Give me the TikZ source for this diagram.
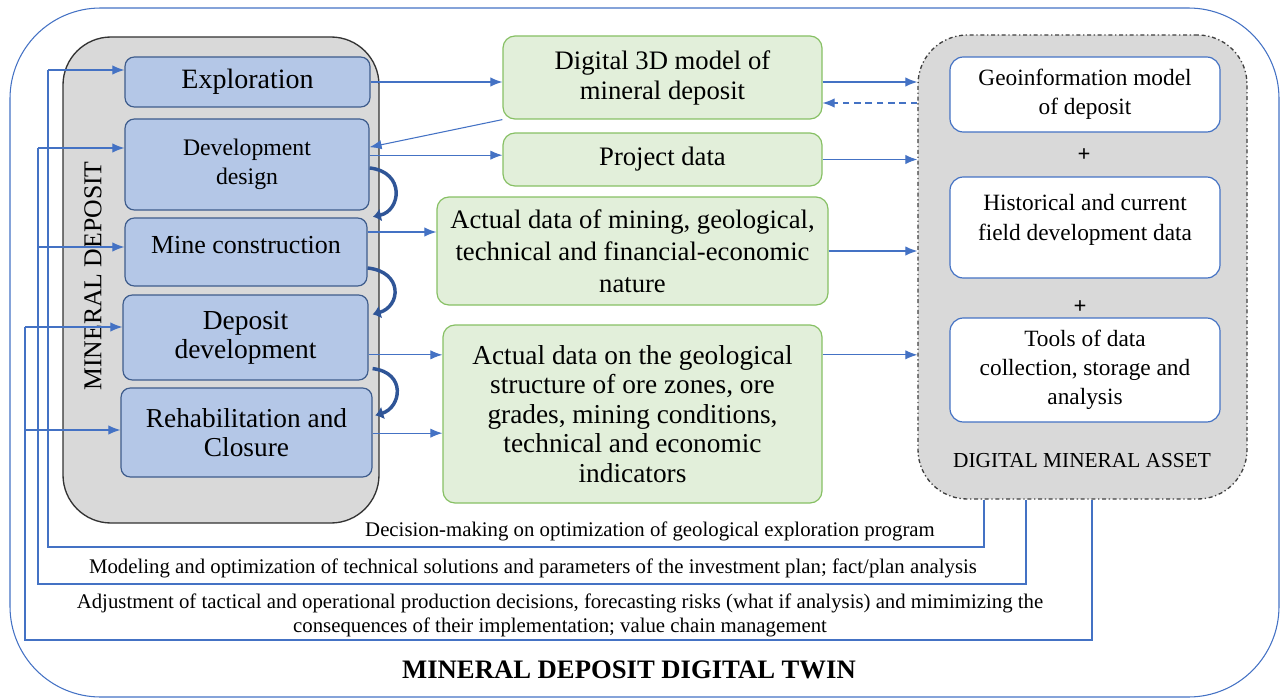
\documentclass[tikz,border=0pt]{standalone}
\usepackage{fontspec}
\setmainfont{Liberation Serif}
\newfontfamily\tnr{Liberation Serif}
\usetikzlibrary{arrows.meta,calc}
\definecolor{arrblue}{RGB}{68,114,196}
\definecolor{bluefill}{RGB}{180,199,231}
\definecolor{blueborder}{RGB}{62,92,140}
\definecolor{greenfill}{RGB}{226,239,218}
\definecolor{greenborder}{RGB}{135,192,100}
\definecolor{grayfill}{RGB}{217,217,217}
\definecolor{curvblue}{RGB}{47,85,151}
\tikzset{
  bbox/.style={draw=blueborder, fill=bluefill, rounded corners=7pt, line width=0.9pt, inner sep=0pt, align=center},
  gbox/.style={draw=greenborder, fill=greenfill, rounded corners=9pt, line width=0.9pt, inner sep=0pt, align=center},
  wbox/.style={draw=arrblue, fill=white, rounded corners=10pt, line width=0.9pt, inner sep=0pt, align=center},
  arr/.style={draw=arrblue, line width=0.8pt, -{Latex[length=9pt,width=7pt]}},
  darr/.style={arr, dash pattern=on 5pt off 3.5pt},
  fb/.style={draw=arrblue, line width=0.8pt},
  curv/.style={draw=curvblue, line width=2.6pt, -{Latex[length=6pt,width=10pt]}},
  ftG/.style={font=\tnr\fontsize{20}{22.5}\selectfont},
  ftW/.style={font=\tnr\fontsize{17.5}{22}\selectfont},
  ftB/.style={font=\tnr\fontsize{15.6}{18}\selectfont},
  txt/.style={inner sep=0pt, align=center},
}
\begin{document}
\begin{tikzpicture}[x=0.75pt,y=-0.75pt]
\useasboundingbox (0,0) rectangle (1282,699);
% outer frame
\node[draw=arrblue, line width=0.8pt, rounded corners=68pt, inner sep=0pt, minimum width=951.75pt, minimum height=516.75pt] (twin) at (644.5,352.5) {};
% left container
\node[draw=black!80, fill=grayfill, line width=1pt, rounded corners=36pt, inner sep=0pt, minimum width=237pt, minimum height=364.5pt] (mdep) at (221,280) {};
\node[rotate=90, font=\tnr\fontsize{19.3}{22}\selectfont] (mdlabel) at (93,276) {MINERAL DEPOSIT};
% right container
\node[draw=black!75, fill=grayfill, line width=1pt, dash dot, rounded corners=37pt, inner sep=0pt, minimum width=246.75pt, minimum height=348pt] (dma) at (1082.5,267) {};
\node[font=\tnr\fontsize{16}{19}\selectfont] (dmalabel) at (1082,461) {DIGITAL MINERAL ASSET};
% blue stage boxes
\node[bbox, minimum width=183.75pt, minimum height=37.5pt, font=\tnr\fontsize{21}{22}\selectfont] (expl) at (247.5,82) {Exploration};
\node[bbox, minimum width=183pt, minimum height=68.25pt, font=\tnr\fontsize{17.8}{21.5}\selectfont] (dev) at (247,164.5) {Development\\design};
\node[bbox, minimum width=181.5pt, minimum height=51pt] (mine) at (246,252) {};
\node[txt, font=\tnr\fontsize{19.5}{22}\selectfont] (minet) at (246,245.5) {Mine construction};
\node[bbox, minimum width=183.75pt, minimum height=63.75pt, font=\tnr\fontsize{20.6}{21.5}\selectfont] (depo) at (245.5,337.5) {Deposit\\development};
\node[bbox, minimum width=188.25pt, minimum height=66.75pt, font=\tnr\fontsize{20.5}{21.5}\selectfont] (rehab) at (246.5,432.5) {Rehabilitation and\\Closure};
% green data boxes
\node[gbox, ftG, minimum width=239.25pt, minimum height=62.25pt] (d3d) at (662.5,77.5) {Digital 3D model of\\mineral deposit};
\node[gbox, ftG, minimum width=239.25pt, minimum height=39.75pt] (proj) at (662.5,159.5) {Project data};
\node[gbox, minimum width=293.25pt, minimum height=81pt, font=\tnr\fontsize{20}{24}\selectfont] (actm) at (632.5,251) {Actual data of mining, geological,\\technical and financial-economic\\nature};
\node[gbox, minimum width=284.25pt, minimum height=133.5pt, font=\tnr\fontsize{20.5}{22.2}\selectfont] (actg) at (632.5,414) {Actual data on the geological\\structure of ore zones, ore\\grades, mining conditions,\\technical and economic\\indicators};
% white boxes
\node[font=\tnr\bfseries\fontsize{17}{19}\selectfont] (plus1) at (1084,155) {+};
\node[font=\tnr\bfseries\fontsize{17}{19}\selectfont] (plus2) at (1080,307) {+};
\node[wbox, ftW, minimum width=202.5pt, minimum height=56.25pt] (geo) at (1085,94.5) {Geoinformation model\\of deposit};
\node[wbox, minimum width=202.5pt, minimum height=75.75pt] (hist) at (1085,227.5) {};
\node[txt, ftW] (histt) at (1085,220) {Historical and current\\field development data};
\node[wbox, minimum width=202.5pt, minimum height=78pt, font=\tnr\fontsize{17.5}{21.8}\selectfont] (tools) at (1085,370) {Tools of data\\collection, storage and\\analysis};
% forward arrows
\draw[arr] (expl.east) -- (expl.east -| d3d.west);
\draw[arr] (expl.east -| d3d.east) -- (expl.east -| dma.west);
\draw[darr] (dma.west |- 0,103) -- (d3d.east |- 0,103);
\draw[arr] (d3d.south west) -- ([yshift=13pt]dev.east);
\draw[arr] ([yshift=7pt]dev.east) -- ([yshift=7pt]dev.east -| proj.west);
\draw[arr] (proj.east) -- (proj.east -| dma.west);
\draw[arr] ([yshift=15pt]mine.east) -- ([yshift=15pt]mine.east -| actm.west);
\draw[arr] (actm.east) -- (actm.east -| dma.west);
\draw[arr] ([yshift=-13pt]depo.east) -- ([yshift=-13pt]depo.east -| actg.west);
\draw[arr] ([yshift=-0.5pt]rehab.east) -- ([yshift=-0.5pt]rehab.east -| actg.west);
\draw[arr] ([yshift=-13pt]depo.east -| actg.east) -- ([yshift=-13pt]depo.east -| dma.west);
% curved sequence arrows
\draw[curv] ([yshift=-2.6pt]dev.east) .. controls +(36,4) and +(28,-6) .. ([xshift=4pt,yshift=0.5pt]mine.north east);
\draw[curv] ([yshift=-12pt]mine.east) .. controls +(36,4) and +(28,-8) .. ([xshift=3pt,yshift=-15pt]depo.north east);
\draw[curv] ([xshift=3pt,yshift=9pt]depo.south east) .. controls +(34,4) and +(26,-8) .. ([xshift=2pt,yshift=-21pt]rehab.north east);
% feedback loops
\coordinate (a1) at (984,547);
\coordinate (a2) at (48,547);
\draw[fb] (dma.south -| a1) -- (a1) -- (a2) -- (48,70);
\draw[arr] (48,70) -- (expl.west |- 0,70);
\coordinate (b1) at (1026,584);
\coordinate (b2) at (38,584);
\draw[fb] (dma.south -| b1) -- (b1) -- (b2) -- (38,148);
\draw[arr] (38,148) -- (dev.west |- 0,148);
\draw[arr] (38,247) -- (mine.west |- 0,247);
\coordinate (c1) at (1092,640);
\coordinate (c2) at (25,640);
\draw[fb] (dma.south -| c1) -- (c1) -- (c2) -- (25,327);
\draw[arr] (25,327) -- (depo.west |- 0,327);
\draw[arr] (25,430) -- (rehab.west |- 0,430);
% labels of feedback loops
\node[ftB] (t1) at (650,531) {Decision-making on optimization of geological exploration program};
\node[ftB] (t2) at (533,568) {Modeling and optimization of technical solutions and parameters of the investment plan; fact/plan analysis};
\node[ftB, align=center] (t3) at (560,615) {Adjustment of tactical and operational production decisions, forecasting risks (what if analysis) and mimimizing the\\consequences of their implementation; value chain management};
\node[font=\tnr\bfseries\fontsize{20}{22}\selectfont] (title) at (629,670) {MINERAL DEPOSIT DIGITAL TWIN};
\end{tikzpicture}
\end{document}
